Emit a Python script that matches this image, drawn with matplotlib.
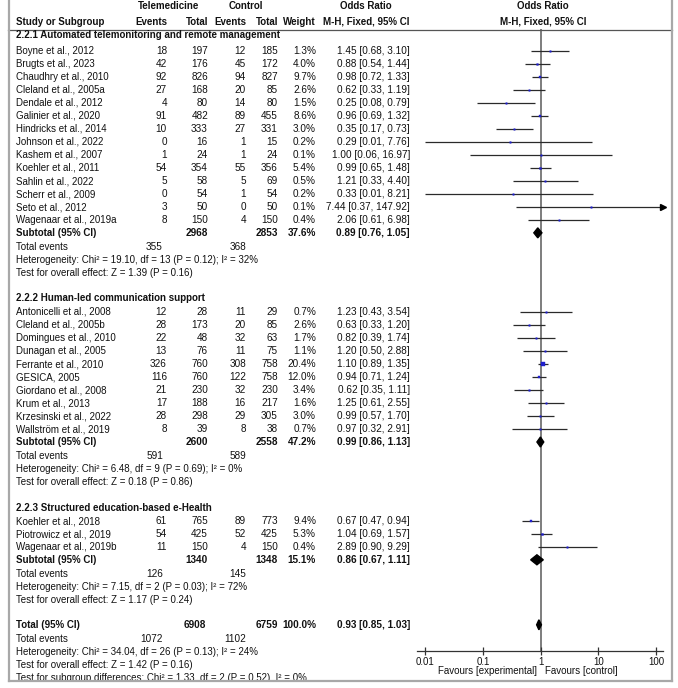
import matplotlib
matplotlib.use('Agg')
import matplotlib.pyplot as plt
from matplotlib.patches import Polygon, Rectangle
import numpy as np

plt.rcParams['font.family'] = ['Liberation Sans', 'DejaVu Sans']

# ---------------- data ----------------
group_titles = ["2.2.1 Automated telemonitoring and remote management",
                "2.2.2 Human-led communication support",
                "2.2.3 Structured education-based e-Health"]

study_names = ["Boyne et al., 2012", "Brugts et al., 2023", "Chaudhry et al., 2010",
               "Cleland et al., 2005a", "Dendale et al., 2012", "Galinier et al., 2020",
               "Hindricks et al., 2014", "Johnson et al., 2022", "Kashem et al., 2007",
               "Koehler et al., 2011", "Sahlin et al., 2022", "Scherr et al., 2009",
               "Seto et al., 2012", "Wagenaar et al., 2019a",
               "Antonicelli et al., 2008", "Cleland et al., 2005b", "Domingues et al., 2010",
               "Dunagan et al., 2005", "Ferrante et al., 2010", "GESICA, 2005",
               "Giordano et al., 2008", "Krum et al., 2013", "Krzesinski et al., 2022",
               "Wallström et al., 2019",
               "Koehler et al., 2018", "Piotrowicz et al., 2019", "Wagenaar et al., 2019b"]
study_group = [0]*14 + [1]*10 + [2]*3
tele_events = [18, 42, 92, 27, 4, 91, 10, 0, 1, 54, 5, 0, 3, 8,
               12, 28, 22, 13, 326, 116, 21, 17, 28, 8,
               61, 54, 11]
tele_total = [197, 176, 826, 168, 80, 482, 333, 16, 24, 354, 58, 54, 50, 150,
              28, 173, 48, 76, 760, 760, 230, 188, 298, 39,
              765, 425, 150]
ctrl_events = [12, 45, 94, 20, 14, 89, 27, 1, 1, 55, 5, 1, 0, 4,
               11, 20, 32, 11, 308, 122, 32, 16, 29, 8,
               89, 52, 4]
ctrl_total = [185, 172, 827, 85, 80, 455, 331, 15, 24, 356, 69, 54, 50, 150,
              29, 85, 63, 75, 758, 758, 230, 217, 305, 38,
              773, 425, 150]
weights = [1.3, 4.0, 9.7, 2.6, 1.5, 8.6, 3.0, 0.2, 0.1, 5.4, 0.5, 0.2, 0.1, 0.4,
           0.7, 2.6, 1.7, 1.1, 20.4, 12.0, 3.4, 1.6, 3.0, 0.7,
           9.4, 5.3, 0.4]
odds_ratio = [1.45, 0.88, 0.98, 0.62, 0.25, 0.96, 0.35, 0.29, 1.00, 0.99, 1.21, 0.33, 7.44, 2.06,
              1.23, 0.63, 0.82, 1.20, 1.10, 0.94, 0.62, 1.25, 0.99, 0.97,
              0.67, 1.04, 2.89]
ci_low = [0.68, 0.54, 0.72, 0.33, 0.08, 0.69, 0.17, 0.01, 0.06, 0.65, 0.33, 0.01, 0.37, 0.61,
          0.43, 0.33, 0.39, 0.50, 0.89, 0.71, 0.35, 0.61, 0.57, 0.32,
          0.47, 0.69, 0.90]
ci_high = [3.10, 1.44, 1.33, 1.19, 0.79, 1.32, 0.73, 7.76, 16.97, 1.48, 4.40, 8.21, 147.92, 6.98,
           3.54, 1.20, 1.74, 2.88, 1.35, 1.24, 1.11, 2.55, 1.70, 2.91,
           0.94, 1.57, 9.29]

sub_tele_total = [2968, 2600, 1340]
sub_ctrl_total = [2853, 2558, 1348]
sub_weight = ["37.6%", "47.2%", "15.1%"]
sub_or = [0.89, 0.99, 0.86]
sub_lo = [0.76, 0.86, 0.67]
sub_hi = [1.05, 1.13, 1.11]
sub_tele_events = [355, 591, 126]
sub_ctrl_events = [368, 589, 145]
sub_het = ["Heterogeneity: Chi² = 19.10, df = 13 (P = 0.12); I² = 32%",
           "Heterogeneity: Chi² = 6.48, df = 9 (P = 0.69); I² = 0%",
           "Heterogeneity: Chi² = 7.15, df = 2 (P = 0.03); I² = 72%"]
sub_test = ["Test for overall effect: Z = 1.39 (P = 0.16)",
            "Test for overall effect: Z = 0.18 (P = 0.86)",
            "Test for overall effect: Z = 1.17 (P = 0.24)"]

total_tele_total = 6908
total_ctrl_total = 6759
total_weight = "100.0%"
total_or, total_lo, total_hi = 0.93, 0.85, 1.03
total_tele_events = 1072
total_ctrl_events = 1102
total_het = "Heterogeneity: Chi² = 34.04, df = 26 (P = 0.13); I² = 24%"
total_test = "Test for overall effect: Z = 1.42 (P = 0.16)"
subgroup_test = "Test for subgroup differences: Chi² = 1.33, df = 2 (P = 0.52), I² = 0%"

axis_ticks = [0.01, 0.1, 1, 10, 100]
axis_tick_labels = ["0.01", "0.1", "1", "10", "100"]

# ---------------- figure ----------------
W, H = 678, 688
fig = plt.figure(figsize=(W / 100, H / 100), dpi=100)
ax = fig.add_axes([0, 0, 1, 1])
ax.set_xlim(0, W)
ax.set_ylim(H, 0)
ax.axis('off')

FS = 7.0
TXT = '#111111'
BLUE = '#1f1fcc'
LINE = '#2a2a2a'


def t(x, y, s, ha='left', bold=False, fs=FS):
    ax.text(x, y, s, ha=ha, va='center', fontsize=fs, color=TXT,
            fontweight='bold' if bold else 'normal', zorder=3)


# column positions (pixels)
X_NAME, X_TE, X_TT, X_CE, X_CT, X_W, X_OR = 16, 167, 208, 246, 278, 316, 410
X_TEV, X_CEV = 163, 246

# forest axes
FX0, FX1, FY0, FY1 = 417, 663, 29, 651
X_ONE, DEC = 540.7, 57.7
axf = fig.add_axes([FX0 / W, 1 - FY1 / H, (FX1 - FX0) / W, (FY1 - FY0) / H])
axf.set_xscale('log')
xmin = 10 ** ((FX0 - X_ONE) / DEC)
xmax = 10 ** ((FX1 - X_ONE) / DEC)
axf.set_xlim(xmin, xmax)
axf.set_ylim(FY1, FY0)
axf.patch.set_alpha(0)
for s in ['left', 'right', 'top']:
    axf.spines[s].set_visible(False)
axf.spines['bottom'].set_color('#333333')
axf.spines['bottom'].set_linewidth(0.9)
axf.set_yticks([])
axf.set_xticks(axis_ticks)
axf.set_xticklabels(axis_tick_labels)
axf.xaxis.set_minor_locator(matplotlib.ticker.NullLocator())
axf.tick_params(axis='x', direction='inout', length=6, width=0.9, color='#333333',
                labelsize=FS, labelcolor=TXT, pad=1.5)
axf.axvline(1, color='#5a5a5a', lw=1.1, zorder=1)

# headers
t(169, 6, "Telemedicine", 'center', True)
t(246, 6, "Control", 'center', True)
t(366, 6, "Odds Ratio", 'center', True)
t(543, 6, "Odds Ratio", 'center', True)
t(X_NAME, 22, "Study or Subgroup", 'left', True)
t(X_TE, 22, "Events", 'right', True)
t(X_TT, 22, "Total", 'right', True)
t(X_CE, 22, "Events", 'right', True)
t(X_CT, 22, "Total", 'right', True)
t(X_W, 22, "Weight", 'right', True)
t(366, 22, "M-H, Fixed, 95% CI", 'center', True)
t(543, 22, "M-H, Fixed, 95% CI", 'center', True)
ax.plot([8, 672], [29.5, 29.5], color='#555555', lw=0.9, zorder=2)


def diamond(y, c, lo, hi, hh=5):
    axf.add_patch(Polygon([[lo, y], [c, y - hh], [hi, y], [c, y + hh]],
                          closed=True, color='black', zorder=4))


STEP = 13.05
y = 35.5
for g in range(3):
    if g > 0:
        y += 25.5
    t(X_NAME, y, group_titles[g], 'left', True)
    idx = [i for i, gg in enumerate(study_group) if gg == g]
    y += 15 if g == 0 else 13.5
    for k, i in enumerate(idx):
        if k > 0:
            y += STEP
        t(X_NAME, y, study_names[i])
        t(X_TE, y, str(tele_events[i]), 'right', fs=7.2)
        t(X_TT, y, str(tele_total[i]), 'right', fs=7.2)
        t(X_CE, y, str(ctrl_events[i]), 'right', fs=7.2)
        t(X_CT, y, str(ctrl_total[i]), 'right', fs=7.2)
        t(X_W, y, f"{weights[i]:.1f}%", 'right', fs=7.2)
        t(X_OR, y, f"{odds_ratio[i]:.2f} [{ci_low[i]:.2f}, {ci_high[i]:.2f}]", 'right', fs=7.2)
        hi = min(ci_high[i], xmax)
        axf.plot([ci_low[i], hi], [y, y], color=LINE, lw=0.9, zorder=3, solid_capstyle='butt')
        if ci_high[i] > xmax:
            axf.plot([xmax * 0.985], [y], marker='>', ms=4, color='black', clip_on=False, zorder=4)
        side = max(1.5, 0.85 * np.sqrt(weights[i]))
        axf.plot([odds_ratio[i]], [y], marker='s', ms=side * 0.72, color=BLUE,
                 mec=BLUE, mew=0.3, zorder=5)
    y += 12.7
    t(X_NAME, y, "Subtotal (95% CI)", 'left', True)
    t(X_TT, y, str(sub_tele_total[g]), 'right', True, fs=7.2)
    t(X_CT, y, str(sub_ctrl_total[g]), 'right', True, fs=7.2)
    t(X_W, y, sub_weight[g], 'right', True, fs=7.2)
    t(X_OR, y, f"{sub_or[g]:.2f} [{sub_lo[g]:.2f}, {sub_hi[g]:.2f}]", 'right', True, fs=7.2)
    diamond(y, sub_or[g], sub_lo[g], sub_hi[g])
    y += 14
    t(X_NAME, y, "Total events")
    t(X_TEV, y, str(sub_tele_events[g]), 'right', fs=7.2)
    t(X_CEV, y, str(sub_ctrl_events[g]), 'right', fs=7.2)
    y += 13
    t(X_NAME, y, sub_het[g])
    y += 13
    t(X_NAME, y, sub_test[g])

y += 25
t(X_NAME, y, "Total (95% CI)", 'left', True)
t(X_TT - 2, y, str(total_tele_total), 'right', True, fs=7.2)
t(X_CT, y, str(total_ctrl_total), 'right', True, fs=7.2)
t(X_W, y, total_weight, 'right', True, fs=7.2)
t(X_OR, y, f"{total_or:.2f} [{total_lo:.2f}, {total_hi:.2f}]", 'right', True, fs=7.2)
diamond(y, total_or, total_lo, total_hi)
y += 14.5
t(X_NAME, y, "Total events")
t(X_TEV, y, str(total_tele_events), 'right', fs=7.2)
t(X_CEV, y, str(total_ctrl_events), 'right', fs=7.2)
y += 13
t(X_NAME, y, total_het)
y += 12.8
t(X_NAME, y, total_test)
y += 12.8
t(X_NAME, y, subgroup_test)

# favours labels
t(537, 671, "Favours [experimental]", 'right')
t(545, 671, "Favours [control]", 'left')

# frame
ax.add_patch(Rectangle((0, 681), W, 10, color='white', zorder=6))
ax.plot([8.5, 8.5], [0, 680.5], color='#a8a8a8', lw=1.6, zorder=7)
ax.plot([671.5, 671.5], [0, 680.5], color='#a8a8a8', lw=1.6, zorder=7)
ax.plot([8.5, 671.5], [680.5, 680.5], color='#a8a8a8', lw=1.6, zorder=7)

fig.savefig('out.png', dpi=100, facecolor='white')
